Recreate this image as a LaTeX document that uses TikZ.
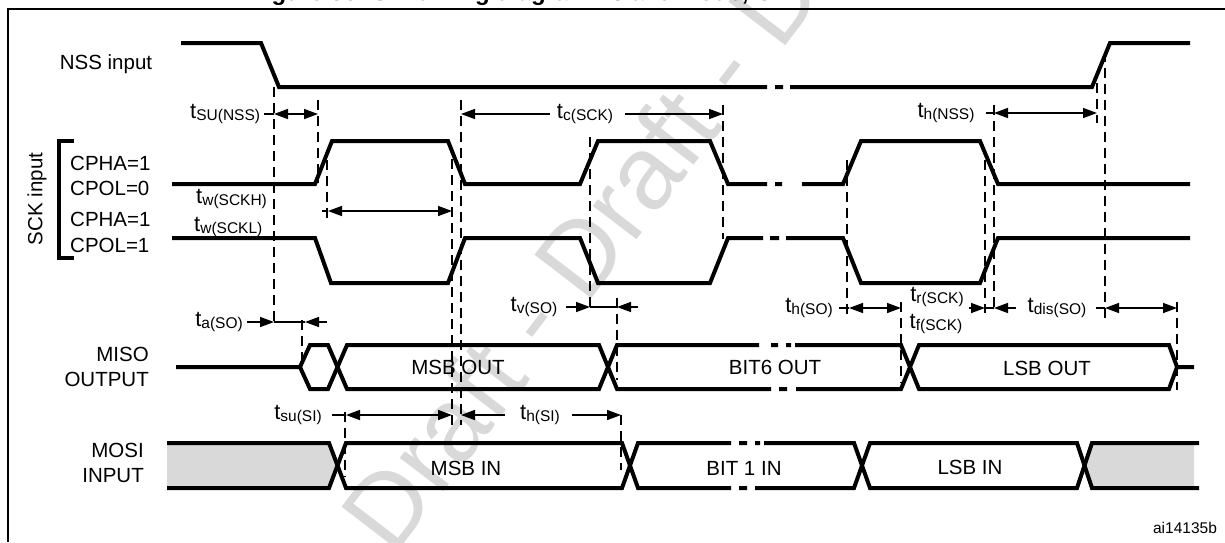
\documentclass[tikz,border=0pt]{standalone}
\usepackage{fontspec}
\setmainfont{Liberation Sans}
\usetikzlibrary{arrows.meta}
\newcommand{\tsub}[1]{{\fontsize{22}{22}\selectfont t}{\fontsize{15.5}{16}\selectfont\raisebox{-1.5pt}{#1}}}

\begin{document}
\begin{tikzpicture}[x=1pt,y=-1pt,
	sig/.style={line width=4pt,line join=miter},
	guide/.style={line width=1.7pt,dash pattern=on 10pt off 6pt},
	dim/.style={line width=1.5pt},
	headr/.style={-{Triangle[length=14pt,width=10pt]}},
	headl/.style={{Triangle[length=14pt,width=10pt]}-},
	headb/.style={{Triangle[length=14pt,width=10pt]}-{Triangle[length=14pt,width=10pt]}},
	every node/.style={font=\fontsize{20.5}{22}\selectfont,inner sep=0pt}]
	\useasboundingbox (0,0) rectangle (1225,542);
	\begin{scope}
		\clip (0,0) rectangle (1225,542);
		\node (mark) [rotate=52.5,text=black!15,font=\fontsize{104}{110}\selectfont] at (626,193) {Draft - Draft - Draft};
		\node (title) [anchor=base west,font=\fontsize{24}{25}\selectfont\bfseries] at (250,0.6) {Figure 86. SPI timing diagram - slave mode, CPHA=1};
	\end{scope}
	\draw[line width=2pt] (8,542) -- (8,9) -- (1225,9);
	% grey areas
	\fill[black!15] (167,445) -- (329,445) -- (337,466) -- (329,486) -- (167,486) -- cycle;
	\fill[black!15] (1194,445) -- (1092,445) -- (1085,466) -- (1092,486) -- (1194,486) -- cycle;
	% guides
	\foreach \gx/\gya/\gyb in {274/87/327,318/100/183,327/160/220,452/159/425,461/100/425,590/137/313,
		723/105/239,617/298/380,847/160/315,901/302/383,985/160/313,994/105/313,1097/83/123,
		1105/52/318,1177/302/390,302/320/367,345/412/477,621/415/470}
		\draw[guide] (\gx,\gya) -- (\gx,\gyb);
	% NSS
	\draw[sig] (181,43) -- (261,43) -- (279,87) -- (767,87) (775,87) -- (783,87) (790,87) -- (1092,87) -- (1110,43) -- (1190,43);
	% SCK
	\draw[sig] (172,184) -- (315,184) -- (332,141) -- (448,141) -- (465,184) -- (580,184) -- (598,141) -- (710,141) -- (728,184) -- (767,184)
		(775,184) -- (782,184) (802,184) -- (843,184) -- (861,141) -- (980,141) -- (998,184) -- (1190,184);
	\draw[sig] (172,238) -- (315,238) -- (331,283) -- (448,283) -- (465,238) -- (580,238) -- (598,283) -- (710,283) -- (728,238) -- (763,238)
		(770,238) -- (779,238) (786,238) -- (843,238) -- (861,283) -- (980,283) -- (998,238) -- (1190,238);
	\draw[line width=3.5pt] (74,141) -- (59,141) -- (59,258) -- (74,258);
	% MISO
	\draw[sig] (176,367) -- (300,367) -- (310,345) -- (328,345) -- (347,389) -- (599,389) -- (617,345) -- (759,345)
		(771,345) -- (778,345) (786,345) -- (791,345) (795,345) -- (901,345) -- (919,389) -- (1169,389) -- (1177,367) -- (1194,367);
	\draw[sig] (300,367) -- (310,389) -- (328,389) -- (347,345) -- (599,345) -- (617,389) -- (771,389)
		(779,389) -- (787,389) (796,389) -- (901,389) -- (919,345) -- (1169,345) -- (1177,367);
	% MOSI
	\draw[sig] (167,443) -- (329,443) -- (346,488) -- (622,488) -- (638,443) -- (731,443)
		(739,443) -- (747,443) (755,443) -- (760,443) (764,443) -- (854,443) -- (870,488) -- (1077,488) -- (1092,443) -- (1199,443);
	\draw[sig] (167,488) -- (329,488) -- (346,443) -- (622,443) -- (638,488) -- (731,488)
		(739,488) -- (747,488) (755,488) -- (854,488) -- (870,443) -- (1077,443) -- (1092,488) -- (1199,488);
	% intervals
	\draw[dim,headb] (274,114) -- (318,114);
	\draw[dim] (264,114) -- (274,114);
	\draw[dim,headl] (461,114) -- (550,114);
	\draw[dim,headr] (625,114) -- (723,114);
	\draw[dim,headb] (994,113) -- (1097,113);
	\draw[dim] (986,113) -- (994,113);
	\draw[dim,headb] (328,211) -- (452,211);
	\draw[dim] (322,211) -- (328,211);
	\draw[dim,headr] (566,307) -- (590,307);
	\draw[dim] (590,307) -- (617,307);
	\draw[dim,headl] (617,307) -- (638,307);
	\draw[dim,headb] (849,308) -- (901,308);
	\draw[dim] (839,308) -- (849,308);
	\draw[dim,headr] (969,308) -- (985,308);
	\draw[dim] (985,308) -- (994,308);
	\draw[dim,headl] (994,308) -- (1016,308);
	\draw[dim,headb] (1105,308) -- (1177,308);
	\draw[dim] (1096,308) -- (1105,308);
	\draw[dim,headr] (247,322) -- (274,322);
	\draw[dim] (274,322) -- (305,322);
	\draw[dim,headl] (305,322) -- (327,322);
	\draw[dim,headb] (346,415) -- (452,415);
	\draw[dim] (332,415) -- (346,415);
	\draw[dim,headl] (461,415) -- (505,415);
	\draw[dim,headr] (572,415) -- (621,415);
	% signal names
	\node (nss) at (106,64) {NSS input};
	\node (sck) [rotate=90] at (37,199) {SCK input};
	\node (cpha1) [anchor=west] at (70,163) {CPHA=1};
	\node (cpol0) [anchor=west] at (70,188) {CPOL=0};
	\node (cpha2) [anchor=west] at (70,219) {CPHA=1};
	\node (cpol1) [anchor=west] at (70,245) {CPOL=1};
	\node (miso) [anchor=east,align=right] at (149,367) {MISO\\[3pt]OUTPUT};
	\node (mosi) [anchor=east,align=right] at (144,463) {MOSI\\[3pt]INPUT};
	% timing labels
	\node (tsunss) [anchor=west] at (190,114) {\tsub{SU(NSS)}};
	\node (tcsck) at (585,114) {\tsub{c(SCK)}};
	\node (thnss) at (946,113) {\tsub{h(NSS)}};
	\node (twh) [anchor=west] at (196,199) {\tsub{w(SCKH)}};
	\node (twl) [anchor=west] at (194,227) {\tsub{w(SCKL)}};
	\node (tvso) at (534,307) {\tsub{v(SO)}};
	\node (thso) at (809,308) {\tsub{h(SO)}};
	\node (trsck) at (937,297) {\tsub{r(SCK)}};
	\node (tfsck) at (936,324) {\tsub{f(SCK)}};
	\node (tdisso) at (1057,308) {\tsub{dis(SO)}};
	\node (taso) at (219,322) {\tsub{a(SO)}};
	\node (tsusi) at (298,415) {\tsub{su(SI)}};
	\node (thsi) at (540,415) {\tsub{h(SI)}};
	% data cells
	\node (msbout) at (458,367) {MSB OUT};
	\node (bit6) at (775,367) {BIT6 OUT};
	\node (lsbout) at (1047,368) {LSB OUT};
	\node (msbin) at (466,468) {MSB IN};
	\node (bit1) at (744,468) {BIT 1 IN};
	\node (lsbin) at (970,467) {LSB IN};
	\node (ref) [font=\fontsize{15.5}{16}\selectfont] at (1185,528) {ai14135b};
\end{tikzpicture}
\end{document}
